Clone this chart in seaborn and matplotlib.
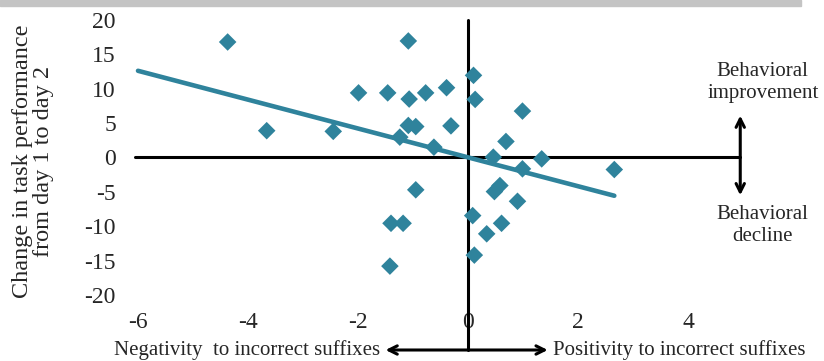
import numpy as np
import pandas as pd
import matplotlib.pyplot as plt
import seaborn as sns
from matplotlib.patches import Rectangle

# valores
suffix_x = [-4.37, -3.66, -2.45, -1.99, -1.46, -1.085, -1.07, -0.77, -0.39,
            -1.085, -0.95, -0.31, -1.24, -0.62, -0.95, -1.40, -1.18, -1.42,
            0.10, 0.13, 0.99, 0.69, 0.46, 1.34, 0.99, 2.66, 0.58, 0.48,
            0.90, 0.085, 0.61, 0.34, 0.115]
perf_change = [16.8, 3.9, 3.8, 9.4, 9.4, 16.95, 8.5, 9.4, 10.15,
               4.66, 4.5, 4.6, 2.96, 1.5, -4.7, -9.57, -9.57, -15.8,
               11.95, 8.45, 6.75, 2.33, 0.05, -0.2, -1.65, -1.75, -4.08, -4.96,
               -6.37, -8.45, -9.57, -11.1, -14.2]
x_ticks = [-6, -4, -2, 0, 2, 4]
y_ticks = [-20, -15, -10, -5, 0, 5, 10, 15, 20]

df = pd.DataFrame({'x': suffix_x, 'y': perf_change})

# linea de tendencia (como Excel, extendida hacia atras hasta -6)
slope, intercept = np.polyfit(df['x'], df['y'], 1)
trend = pd.DataFrame({'x': [-6.0, df['x'].max()]})
trend['y'] = intercept + slope * trend['x']

sns.set_style('white')
plt.rcParams['font.family'] = ['Liberation Serif', 'DejaVu Serif']
plt.rcParams['axes.unicode_minus'] = False

teal = '#2F839C'
fig = plt.figure(figsize=(8.24, 3.61), dpi=100)
fig.patches.append(Rectangle((0, 0.982), 0.972, 0.018, transform=fig.transFigure,
                             color='#c4c4c4', zorder=0))
ax = fig.add_axes([132.5 / 824, 66 / 361, 555.5 / 824, 275 / 361])

sns.lineplot(data=trend, x='x', y='y', ax=ax, color=teal, lw=3.3, zorder=2)
sns.scatterplot(data=df, x='x', y='y', ax=ax, marker='D', s=80, color=teal,
                edgecolor='none', zorder=3)

ax.set_xlim(-6.1, 4)
ax.set_ylim(-20, 20)
ax.set_xticks(x_ticks)
ax.set_yticks(y_ticks)
ax.tick_params(axis='x', length=0, pad=12, labelsize=17)
ax.tick_params(axis='y', length=0, pad=12, labelsize=17)
for s in ax.spines.values():
    s.set_visible(False)
ax.set_xlabel('')
ax.set_ylabel('')

# ejes cruzando en cero + flechas
ax.plot([-6.05, 4.95], [0, 0], color='black', lw=2.2, clip_on=False, zorder=1)
ax.plot([0, 0], [20, -28], color='black', lw=2.2, clip_on=False, zorder=1)
ax.annotate('', xy=(-1.55, -28), xytext=(1.5, -28), annotation_clip=False,
            arrowprops=dict(arrowstyle='<->', lw=2.2, color='black', mutation_scale=15))
ax.annotate('', xy=(4.95, 6.5), xytext=(4.95, -5.9), annotation_clip=False,
            arrowprops=dict(arrowstyle='<->', lw=2.2, color='black', mutation_scale=15))

ax.text(-1.6, -28, 'Negativity  to incorrect suffixes', ha='right', va='center',
        fontsize=15, clip_on=False)
ax.text(1.55, -28, 'Positivity to incorrect suffixes', ha='left', va='center',
        fontsize=15, clip_on=False)
ax.text(5.36, 10.86, 'Behavioral\nimprovement', ha='center', va='center',
        fontsize=15, linespacing=1.2, clip_on=False)
ax.text(5.36, -9.9, 'Behavioral\ndecline', ha='center', va='center',
        fontsize=15, linespacing=1.2, clip_on=False)

fig.text(33 / 824, 1 - 161 / 361, 'Change in task performance\nfrom day 1 to day 2',
         rotation=90, ha='center', va='center', fontsize=17.5, linespacing=1.0)

fig.savefig('out.png', dpi=100)
